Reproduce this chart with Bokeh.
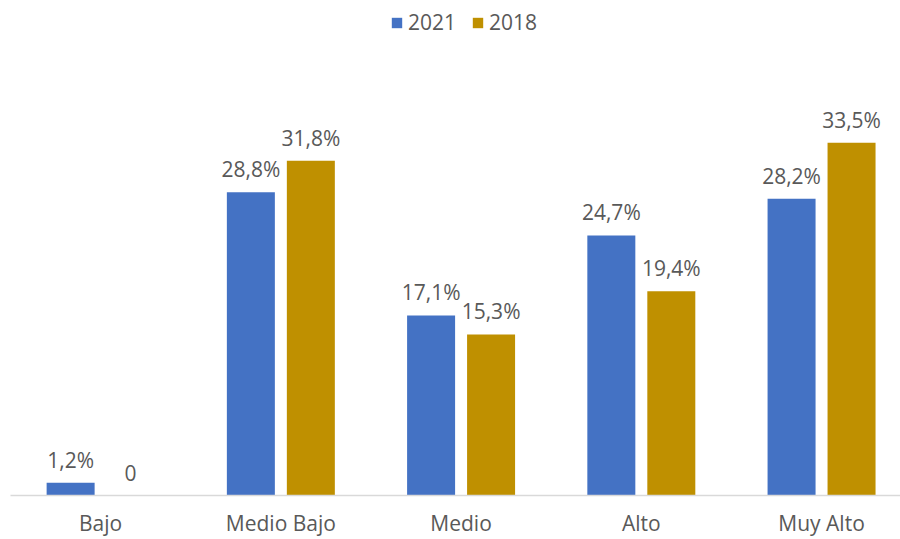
from bokeh.plotting import figure
from bokeh.models import ColumnDataSource, FixedTicker, Legend, LegendItem
from bokeh.core.properties import value
from bokeh.embed import file_html
from bokeh.resources import INLINE

categories = ["Bajo", "Medio Bajo", "Medio", "Alto", "Muy Alto"]
series_names = ["2021", "2018"]
values_2021 = [1.2, 28.8, 17.1, 24.7, 28.2]
values_2018 = [0.0, 31.8, 15.3, 19.4, 33.5]
colors = ["#4472C4", "#BF9000"]

FONT = "Open Sans"
TXT = "#595959"


def fmt(v):
    return "0" if v == 0 else f"{v:.1f}%".replace(".", ",")


centers = [i + 0.5 for i in range(len(categories))]
offset = 0.1664
bar_w = 0.2663

p = figure(width=900, height=539, x_range=(0, 4.938), y_range=(0, 47.02),
           output_backend="svg", toolbar_location=None, y_axis_location=None,
           min_border_left=10, min_border_right=0, min_border_top=0, min_border_bottom=42)
p.outline_line_color = None
p.xgrid.visible = False
p.ygrid.visible = False
p.background_fill_color = "white"
p.border_fill_color = "white"

renderers = []
for k, (vals, name, col) in enumerate(zip([values_2021, values_2018], series_names, colors)):
    xs = [c + (-offset if k == 0 else offset) for c in centers]
    src = ColumnDataSource(dict(x=xs, top=vals, label=[fmt(v) for v in vals]))
    r = p.vbar(x="x", top="top", width=bar_w, source=src, fill_color=col, line_color=None)
    renderers.append((name, r))
    p.text(x="x", y="top", text="label", source=src, text_align="center",
           text_baseline="alphabetic", y_offset=-23, text_font=value(FONT),
           text_font_size="21px", text_color=TXT)

ax = p.xaxis[0]
ax.ticker = FixedTicker(ticks=centers)
ax.major_label_overrides = {c: cat for c, cat in zip(centers, categories)}
ax.major_tick_line_color = None
ax.minor_tick_line_color = None
ax.major_tick_out = 0
ax.major_tick_in = 0
ax.axis_line_color = "#D9D9D9"
ax.axis_line_width = 1.5
ax.major_label_standoff = 13
ax.major_label_text_font = FONT
ax.major_label_text_font_size = "21px"
ax.major_label_text_color = TXT

legend = Legend(items=[LegendItem(label=n, renderers=[r]) for n, r in renderers],
                orientation="horizontal", location=(380, 459))
legend.glyph_width = 13
legend.glyph_height = 13
legend.label_standoff = 5
legend.spacing = 15
legend.padding = 0
legend.margin = 0
legend.border_line_color = None
legend.background_fill_alpha = 0
legend.label_text_font = FONT
legend.label_text_font_size = "21px"
legend.label_text_color = TXT
p.add_layout(legend)

open("out.html", "w").write(file_html(p, INLINE))
